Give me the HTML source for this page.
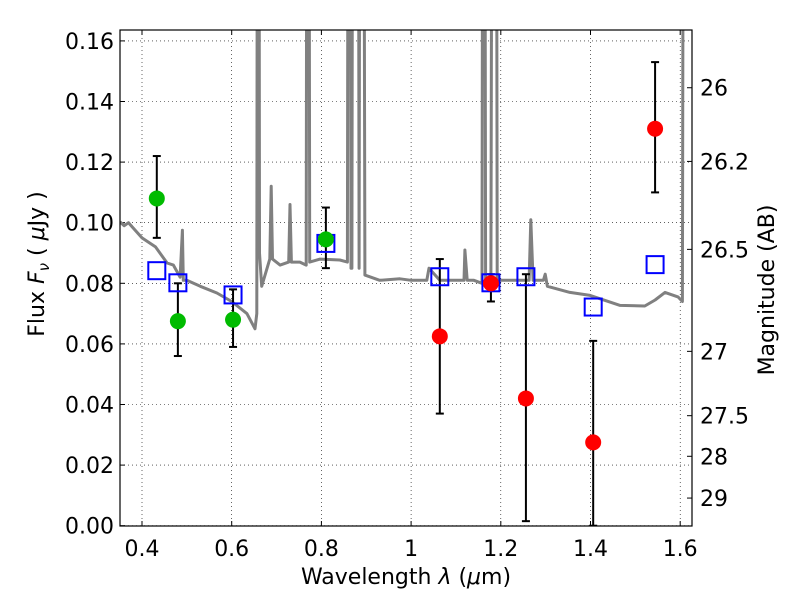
<!DOCTYPE html>
<html><head><meta charset="utf-8"><style>
body{margin:0;background:#fff}
svg text{font-family:"DejaVu Sans","Liberation Sans",sans-serif;fill:#000}
</style></head><body>
<svg id="c" width="800" height="600" xmlns="http://www.w3.org/2000/svg"></svg>
<script>
const specLam=[0.351,0.36,0.37,0.4,0.43,0.456,0.47,0.485,0.49,0.492,0.5,0.53,0.567,0.6,0.634,0.652,0.656,0.659,0.662,0.667,0.685,0.688,0.691,0.708,0.727,0.73,0.733,0.752,0.766,0.77,0.774,0.797,0.841,0.858,0.862,0.866,0.868,0.872,0.880,0.884,0.888,0.891,0.897,0.93,0.975,1.0,1.035,1.04,1.064,1.118,1.12,1.125,1.14,1.158,1.162,1.166,1.178,1.184,1.188,1.192,1.198,1.243,1.263,1.267,1.272,1.295,1.299,1.304,1.354,1.399,1.466,1.521,1.544,1.566,1.595,1.605,1.61,1.615,1.62,1.626];
const specFlux=[0.1003,0.099,0.1,0.095,0.092,0.0867,0.086,0.082,0.0975,0.081,0.081,0.079,0.0768,0.074,0.070,0.065,0.07,0.5,0.09,0.079,0.088,0.112,0.088,0.086,0.087,0.106,0.087,0.087,0.086,0.5,0.087,0.088,0.0877,0.087,0.5,0.085,0.085,0.5,0.5,0.085,0.5,0.5,0.0827,0.081,0.0815,0.081,0.081,0.085,0.081,0.081,0.091,0.081,0.081,0.08,0.5,0.08,0.08,0.5,0.5,0.081,0.081,0.081,0.081,0.101,0.081,0.081,0.083,0.079,0.077,0.076,0.0727,0.0725,0.0745,0.077,0.0755,0.074,0.5,0.5,0.5,0.5];
const greenLam=[0.433,0.48,0.603,0.81];
const greenFlux=[0.108,0.0675,0.068,0.0945];
const greenLo=[0.095,0.056,0.059,0.085];
const greenHi=[0.122,0.080,0.078,0.105];
const redLam=[1.064,1.178,1.256,1.406,1.544];
const redFlux=[0.0625,0.080,0.042,0.0275,0.131];
const redLo=[0.037,0.074,0.0015,0.0,0.110];
const redHi=[0.088,0.083,0.083,0.061,0.153];
const modelLam=[0.433,0.48,0.603,0.81,1.064,1.178,1.256,1.406,1.544];
const modelFlux=[0.084,0.080,0.076,0.093,0.082,0.080,0.082,0.072,0.086];
const xTicks=[0.4,0.6,0.8,1.0,1.2,1.4,1.6];
const xTickLabels=["0.4","0.6","0.8","1","1.2","1.4","1.6"];
const yTicks=[0,0.02,0.04,0.06,0.08,0.10,0.12,0.14,0.16];
const yTickLabels=["0.00","0.02","0.04","0.06","0.08","0.10","0.12","0.14","0.16"];
const magTicks=[26,26.2,26.5,27,27.5,28,29];
const magTickLabels=["26","26.2","26.5","27","27.5","28","29"];

const L=120,R=692,T=30,B=526;
const X=l=>142+(l-0.4)*448.5;
const Y=f=>525.7-f*3030;
const NS="http://www.w3.org/2000/svg";
const svg=document.getElementById('c');
function mk(t,a,p){const e=document.createElementNS(NS,t);for(const k in a)e.setAttribute(k,a[k]);(p||svg).appendChild(e);return e;}
const defs=mk('defs',{});const cp=mk('clipPath',{id:'pc'},defs);mk('rect',{x:L,y:T,width:R-L,height:B-T},cp);
const grid=mk('g',{});


xTicks.forEach((t,i)=>{const x=X(t);
 mk('line',{x1:x,x2:x,y1:T,y2:B,stroke:'#000','stroke-width':0.6,'stroke-dasharray':'1,3'},grid);
 mk('line',{x1:x,x2:x,y1:B,y2:B-5,stroke:'#000'},grid);mk('line',{x1:x,x2:x,y1:T,y2:T+5,stroke:'#000'},grid);
 const tx=mk('text',{x:x,y:B+30,'text-anchor':'middle','font-size':22});tx.textContent=xTickLabels[i];
 
 
});
yTicks.forEach((t,i)=>{const y=Y(t);
 mk('line',{x1:L,x2:R,y1:y,y2:y,stroke:'#000','stroke-width':0.6,'stroke-dasharray':'1,3'},grid);
 mk('line',{x1:L,x2:L+5,y1:y,y2:y,stroke:'#000'},grid);
 const tx=mk('text',{x:L-6,y:y+8,'text-anchor':'end','font-size':22});tx.textContent=yTickLabels[i];
 
 
});
magTicks.forEach((m,i)=>{const y=Y(Math.pow(10,(23.9-m)/2.5));
 mk('line',{x1:R,x2:R-5,y1:y,y2:y,stroke:'#000'},grid);
 const tx=mk('text',{x:R+8,y:y+8,'font-size':22});tx.textContent=magTickLabels[i];
 
 
});
const pg=mk('g',{'clip-path':'url(#pc)'});
const pts=specLam.map((l,i)=>X(l).toFixed(1)+','+Y(specFlux[i]).toFixed(1)).join(' ');
const sp=mk('polyline',{points:pts,fill:'none',stroke:'#808080','stroke-width':3,'stroke-linejoin':'round'},pg);


function eb(l,lo,hi){const x=X(l);mk('line',{x1:x,x2:x,y1:Y(lo),y2:Y(hi),stroke:'#000','stroke-width':2},pg);
 [lo,hi].forEach(v=>mk('line',{x1:x-4,x2:x+4,y1:Y(v),y2:Y(v),stroke:'#000','stroke-width':2},pg));}
greenLam.forEach((l,i)=>eb(l,greenLo[i],greenHi[i]));
redLam.forEach((l,i)=>eb(l,redLo[i],redHi[i]));
modelLam.forEach((l,i)=>{const r=mk('rect',{x:X(l)-8.5,y:Y(modelFlux[i])-9,width:17,height:17,fill:'none',stroke:'#0000ff','stroke-width':2},pg);
 
 });
greenLam.forEach((l,i)=>{const c=mk('circle',{cx:X(l),cy:Y(greenFlux[i]),r:8,fill:'#00bb00'},pg);
 
 });
redLam.forEach((l,i)=>{const c=mk('circle',{cx:X(l),cy:Y(redFlux[i]),r:8,fill:'#ff0000'},pg);
 
 });
const fr=mk('rect',{x:L,y:T,width:R-L,height:B-T,fill:'none',stroke:'#000','stroke-width':1.2});


const xl=mk('text',{x:406,y:584,'text-anchor':'middle','font-size':22});
xl.innerHTML='Wavelength  <tspan font-style="italic">λ</tspan> (<tspan font-style="italic">μ</tspan>m)';


const yl=mk('text',{x:0,y:0,'text-anchor':'middle','font-size':22,transform:'translate(44,264) rotate(-90)'});
yl.innerHTML='Flux  <tspan font-style="italic">F</tspan><tspan font-style="italic" font-size="15" dy="5">ν</tspan><tspan dy="-5">  (  </tspan><tspan font-style="italic">μ</tspan>Jy )';


const ml=mk('text',{x:0,y:0,'text-anchor':'middle','font-size':22,transform:'translate(774,290) rotate(-90)'});
ml.textContent='Magnitude (AB)';


</script>
</body></html>
